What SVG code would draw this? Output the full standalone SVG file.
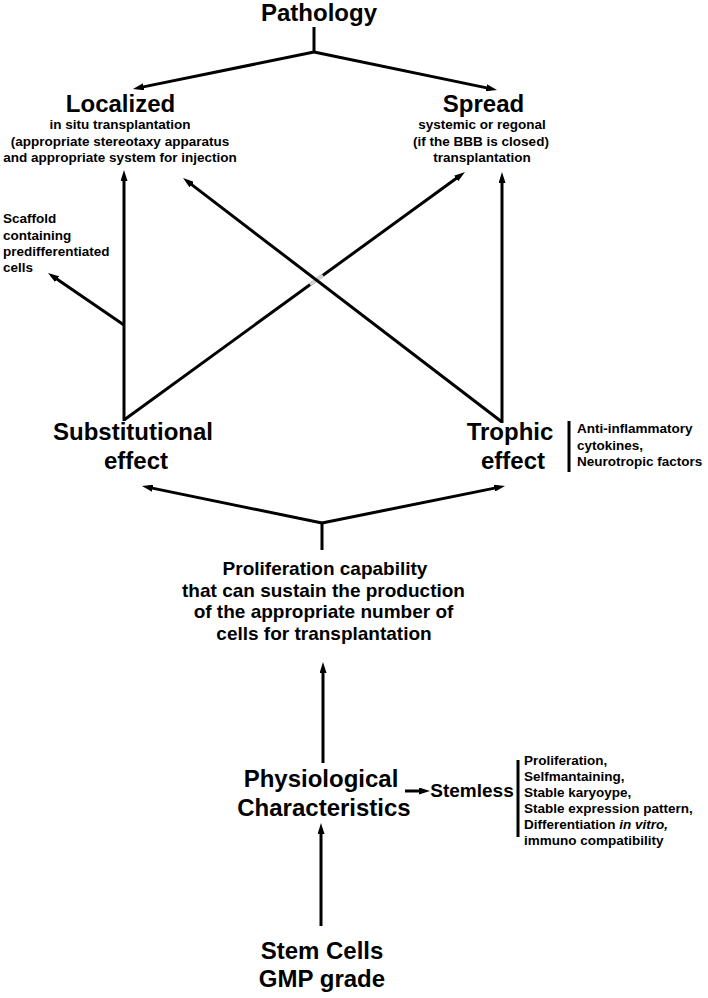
<svg xmlns="http://www.w3.org/2000/svg" width="708" height="998" viewBox="0 0 708 998">
<style>
text{font-family:"Liberation Sans",Arial,sans-serif;font-weight:bold;fill:#000}
.t{font-size:24px;text-anchor:middle}
.s{font-size:13.5px;text-anchor:middle}
.l{font-size:13.5px}
.p{font-size:19px;text-anchor:middle}
.c{stroke:#000;stroke-width:3;fill:none}
.a{marker-end:url(#ah)}
</style>
<defs>
<marker id="ah" markerUnits="userSpaceOnUse" markerWidth="11" markerHeight="7" refX="3" refY="3.5" orient="auto">
<path d="M0,0 L11,3.5 L0,7 z" fill="#000"/>
</marker>
</defs>
<rect width="708" height="998" fill="#fff"/>
<g id="connectors">
<line class="c" x1="314" y1="27" x2="314" y2="52"/>
<line class="c a" x1="314" y1="52" x2="140.8" y2="87.4"/>
<line class="c a" x1="314" y1="52" x2="489.2" y2="88.4"/>
<line class="c a" x1="124" y1="421" x2="124" y2="178"/>
<line class="c a" x1="124" y1="420" x2="458.5" y2="176.7"/>
<line x1="310" y1="284.7" x2="323" y2="275.3" stroke="#d4d4d4" stroke-width="3.4"/>
<line class="c a" x1="124" y1="325" x2="54.6" y2="277.5"/>
<line class="c a" x1="502" y1="422" x2="189.4" y2="182.9"/>
<line class="c a" x1="502" y1="423" x2="502" y2="180"/>
<line class="c" x1="322" y1="550" x2="322" y2="523"/>
<line class="c a" x1="322" y1="523" x2="149.8" y2="487.6"/>
<line class="c a" x1="322" y1="523" x2="497.2" y2="487.6"/>
<line class="c a" x1="323" y1="763" x2="323" y2="670"/>
<line class="c a" x1="321" y1="926" x2="321" y2="831"/>
<line class="c a" x1="405" y1="791" x2="422" y2="791"/>
<line class="c" x1="569" y1="421" x2="569" y2="472"/>
<line class="c" x1="518" y1="760" x2="518" y2="837"/>
</g>
<g id="pathology"><text class="t" x="319" y="21">Pathology</text></g>
<g id="localized">
<text class="t" x="120.5" y="112">Localized</text>
<text class="s" x="120" y="129">in situ transplantation</text>
<text class="s" x="120" y="146">(appropriate stereotaxy apparatus</text>
<text class="s" x="120" y="162">and appropriate system for injection</text>
</g>
<g id="spread">
<text class="t" x="483.5" y="112">Spread</text>
<text class="s" x="482" y="129">systemic or regonal</text>
<text class="s" x="481" y="146">(if the BBB is closed)</text>
<text class="s" x="482" y="162">transplantation</text>
</g>
<g id="scaffold">
<text class="l" x="3" y="223">Scaffold</text>
<text class="l" x="3" y="240">containing</text>
<text class="l" x="3" y="256">predifferentiated</text>
<text class="l" x="3" y="272">cells</text>
</g>
<g id="substitutional">
<text class="t" x="133" y="440">Substitutional</text>
<text class="t" x="136" y="469">effect</text>
</g>
<g id="trophic">
<text class="t" x="510" y="440">Trophic</text>
<text class="t" x="513" y="469">effect</text>
</g>
<g id="trophic-notes">
<text class="l" x="577" y="433">Anti-inflammatory</text>
<text class="l" x="577" y="450">cytokines,</text>
<text class="l" x="577" y="466">Neurotropic factors</text>
</g>
<g id="proliferation">
<text class="p" x="325" y="575">Proliferation capability</text>
<text class="p" x="323.5" y="597">that can sustain the production</text>
<text class="p" x="323.5" y="618">of the appropriate number of</text>
<text class="p" x="324" y="640">cells for transplantation</text>
</g>
<g id="physiological">
<text class="t" x="321" y="787">Physiological</text>
<text class="t" x="324" y="816">Characteristics</text>
</g>
<g id="stemless"><text x="472" y="797" style="font-size:19px;text-anchor:middle">Stemless</text></g>
<g id="stemless-notes">
<text class="l" x="524" y="765">Proliferation,</text>
<text class="l" x="524" y="781">Selfmantaining,</text>
<text class="l" x="524" y="797">Stable karyoype,</text>
<text class="l" x="524" y="813">Stable expression pattern,</text>
<text class="l" x="524" y="829">Differentiation <tspan font-style="italic">in vitro,</tspan></text>
<text class="l" x="524" y="845">immuno compatibility</text>
</g>
<g id="stemcells">
<text class="t" x="322" y="959">Stem Cells</text>
<text class="t" x="322" y="987">GMP grade</text>
</g>
</svg>
